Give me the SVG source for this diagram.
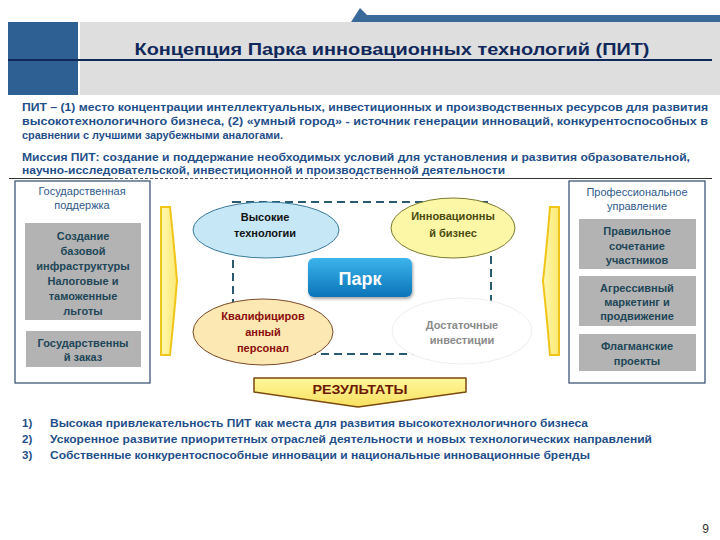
<svg xmlns="http://www.w3.org/2000/svg" width="720" height="540" viewBox="0 0 720 540">
<style>
.para{font-family:"Liberation Sans",Arial,sans-serif;font-size:11.5px;font-weight:bold;fill:#1f4f8a}
.hdr{font-family:"Liberation Sans",Arial,sans-serif;font-size:11px;fill:#2e5a8a;text-anchor:middle}
.gb{fill:#b3b3b3}
.gt{font-family:"Liberation Sans",Arial,sans-serif;font-size:11px;font-weight:bold;fill:#1d4658;text-anchor:middle}
.et{font-family:"Liberation Sans",Arial,sans-serif;font-size:11px;font-weight:bold;text-anchor:middle}
.frame{fill:#fff;stroke:#2e4a6e;stroke-width:1.2}
.dash{fill:none;stroke:#2a5a70;stroke-width:2;stroke-dasharray:8 5}
.yarrow{fill:url(#yg);stroke:#f0c419;stroke-width:2}
</style>
<defs>
<linearGradient id="yg" x1="0" y1="0" x2="1" y2="0">
<stop offset="0" stop-color="#fff8b0"/><stop offset="1" stop-color="#fbe873"/>
</linearGradient>
<linearGradient id="rg" x1="0" y1="0" x2="0" y2="1">
<stop offset="0" stop-color="#fff79a"/><stop offset="1" stop-color="#f8e060"/>
</linearGradient>
<linearGradient id="pg" x1="0" y1="0" x2="0" y2="1">
<stop offset="0" stop-color="#3cb4ec"/><stop offset="1" stop-color="#0b74b8"/>
</linearGradient>
<filter id="sh" x="-20%" y="-20%" width="140%" height="160%">
<feDropShadow dx="1" dy="2" stdDeviation="1.5" flood-color="#000" flood-opacity="0.35"/>
</filter>
</defs>
<rect width="720" height="540" fill="#fff"/>

<g id="header">
<rect x="364" y="15" width="356" height="7" fill="#3a6a9a"/>
<polygon points="351,22 360,8 367,15 367,22" fill="#3a6a9a"/>
<rect x="80" y="22" width="640" height="73" fill="#dedede"/>
<rect x="8" y="22" width="70" height="73" fill="#2f6093"/>
<line x1="8" y1="60" x2="712" y2="60" stroke="#10285a" stroke-width="2"/>
<text x="392" y="55" text-anchor="middle" font-family="Liberation Sans,Arial,sans-serif" font-size="17" font-weight="bold" fill="#10285a" textLength="515" lengthAdjust="spacingAndGlyphs">Концепция Парка инновационных технологий (ПИТ)</text>
</g>

<g id="intro">
<text class="para" x="22" y="111" textLength="686" lengthAdjust="spacingAndGlyphs">ПИТ – (1) место концентрации интеллектуальных, инвестиционных и производственных ресурсов для развития</text>
<text class="para" x="22" y="125" textLength="686" lengthAdjust="spacingAndGlyphs">высокотехнологичного бизнеса, (2) «умный город» - источник генерации инноваций, конкурентоспособных в</text>
<text class="para" x="22" y="139" textLength="261" lengthAdjust="spacingAndGlyphs">сравнении с лучшими зарубежными аналогами.</text>
<text class="para" x="22" y="161" textLength="668" lengthAdjust="spacingAndGlyphs">Миссия ПИТ: создание и поддержание необходимых условий для установления и развития образовательной,</text>
<text class="para" x="22" y="174" textLength="483" lengthAdjust="spacingAndGlyphs">научно-исследовательской, инвестиционной и производственной деятельности</text>
<line x1="9" y1="178.5" x2="110" y2="178.5" stroke="#333" stroke-width="1"/>
<line x1="110" y1="178.5" x2="413" y2="178.5" stroke="#555" stroke-width="1" stroke-dasharray="3 2"/>
<line x1="413" y1="178.5" x2="712" y2="178.5" stroke="#333" stroke-width="1"/>
</g>

<g id="left-box">
<rect class="frame" x="15" y="181" width="135" height="202"/>
<text class="hdr" x="82" y="195">Государственная</text>
<text class="hdr" x="82" y="209">поддержка</text>
<rect class="gb" x="25" y="223" width="116" height="97"/>
<text class="gt" x="83" y="240">Создание</text>
<text class="gt" x="83" y="255">базовой</text>
<text class="gt" x="83" y="270">инфраструктуры</text>
<text class="gt" x="83" y="285">Налоговые и</text>
<text class="gt" x="83" y="300">таможенные</text>
<text class="gt" x="83" y="315">льготы</text>
<rect class="gb" x="26" y="331" width="115" height="36"/>
<text class="gt" x="83" y="347">Государственны</text>
<text class="gt" x="83" y="361">й заказ</text>
</g>

<g id="right-box">
<rect class="frame" x="569" y="181" width="136" height="202"/>
<text class="hdr" x="637" y="196">Профессиональное</text>
<text class="hdr" x="637" y="210">управление</text>
<rect class="gb" x="579" y="219" width="117" height="50"/>
<text class="gt" x="637" y="235">Правильное</text>
<text class="gt" x="637" y="250">сочетание</text>
<text class="gt" x="637" y="264">участников</text>
<rect class="gb" x="579" y="276" width="117" height="50"/>
<text class="gt" x="637" y="292">Агрессивный</text>
<text class="gt" x="637" y="306">маркетинг и</text>
<text class="gt" x="637" y="320">продвижение</text>
<rect class="gb" x="579" y="334" width="117" height="37"/>
<text class="gt" x="637" y="350">Флагманские</text>
<text class="gt" x="637" y="365">проекты</text>
</g>

<g id="connectors">
<rect class="dash" x="233" y="202" width="258" height="152"/>
<path id="arrow-left" class="yarrow" d="M161,207 L170,207 Q174,244 177,281 Q174,318 170,355 L161,355 Z"/>
<path id="arrow-right" class="yarrow" d="M559,207 L550,207 Q547,244 543,281 Q547,318 550,355 L559,355 Z"/>
</g>

<g id="high-tech">
<ellipse cx="266" cy="230" rx="73" ry="28" fill="#c6e8f6" stroke="#3a7a9a" stroke-width="1"/>
<text class="et" x="265" y="221" fill="#111">Высокие</text>
<text class="et" x="265" y="237" fill="#111">технологии</text>
</g>

<g id="innov-business">
<ellipse cx="453" cy="228" rx="62" ry="30" fill="#fbf7a6" stroke="#7a7a30" stroke-width="1"/>
<text class="et" x="453" y="220" fill="#4a4a10">Инновационны</text>
<text class="et" x="453" y="237" fill="#4a4a10">й бизнес</text>
</g>

<g id="staff">
<ellipse cx="263" cy="332" rx="70" ry="33" fill="#fbe8b2" stroke="#7a4a2a" stroke-width="1"/>
<text class="et" x="263" y="320" fill="#8b0b0b">Квалифициров</text>
<text class="et" x="263" y="336" fill="#8b0b0b">анный</text>
<text class="et" x="263" y="352" fill="#8b0b0b">персонал</text>
</g>

<g id="investments">
<ellipse cx="462" cy="331" rx="70" ry="33" fill="#fff" stroke="#eeeeee" stroke-width="1"/>
<text class="et" x="462" y="329" fill="#8a8a8a">Достаточные</text>
<text class="et" x="462" y="344" fill="#8a8a8a">инвестиции</text>
</g>

<g id="park">
<rect x="308" y="258" width="104" height="39" rx="6" fill="url(#pg)" filter="url(#sh)"/>
<text x="360" y="285" text-anchor="middle" font-family="Liberation Sans,Arial,sans-serif" font-size="18" font-weight="bold" fill="#fff">Парк</text>
</g>

<g id="results">
<path d="M254,378 L466,378 L466,392 L358,407 L254,392 Z" fill="url(#rg)" stroke="#7a4a10" stroke-width="1.5" stroke-linejoin="round"/>
<text x="360" y="394" text-anchor="middle" font-family="Liberation Sans,Arial,sans-serif" font-size="12" font-weight="bold" fill="#6b1a00" textLength="95" lengthAdjust="spacingAndGlyphs">РЕЗУЛЬТАТЫ</text>
</g>

<g id="list">
<text class="para" x="22" y="427">1)</text>
<text class="para" x="22" y="443">2)</text>
<text class="para" x="22" y="459">3)</text>
<text class="para" x="50" y="427" textLength="538" lengthAdjust="spacingAndGlyphs">Высокая привлекательность ПИТ как места для развития высокотехнологичного бизнеса</text>
<text class="para" x="50" y="443" textLength="602" lengthAdjust="spacingAndGlyphs">Ускоренное развитие приоритетных отраслей деятельности и новых технологических направлений</text>
<text class="para" x="50" y="459" textLength="540" lengthAdjust="spacingAndGlyphs">Собственные конкурентоспособные инновации и национальные инновационные бренды</text>
</g>

<text x="709" y="533" text-anchor="end" font-family="Liberation Sans,Arial,sans-serif" font-size="12" fill="#333">9</text>
</svg>
